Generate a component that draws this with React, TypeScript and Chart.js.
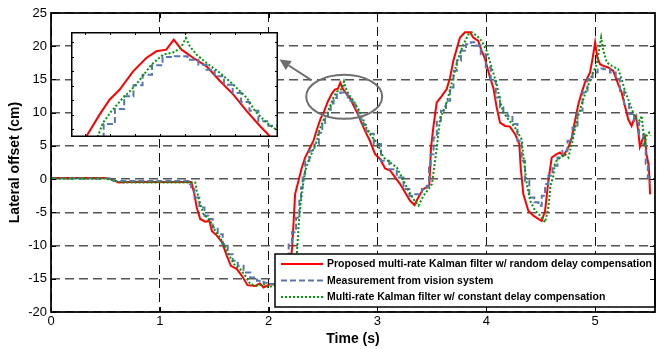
import React, { useEffect, useRef } from 'react';
import { Chart, registerables } from 'chart.js';

Chart.register(...registerables);

const W = 657;
const H = 349;
const FONT = "'Liberation Sans', Arial, Helvetica, sans-serif";

// ---------- data (time s, lateral offset cm) ----------
const redPts: number[][] = [
  [0, 0.15], [0.5, 0.15], [0.55, 0.0], [0.62, -0.5], [0.75, -0.4], [1.0, -0.45], [1.29, -0.45],
  [1.317, -2.26], [1.34, -4.3], [1.371, -6.0], [1.417, -6.4], [1.456, -6.3], [1.478, -7.8], [1.524, -8.5],
  [1.57, -9.5], [1.616, -11.55], [1.653, -13.06], [1.708, -13.55], [1.754, -14.56], [1.806, -15.96],
  [1.876, -16.07], [1.92, -15.7], [1.953, -16.3], [2.014, -15.8], [2.1, -16.0], [2.17, -15.5], [2.2, -12.5],
  [2.216, -10.3], [2.228, -6.8], [2.243, -2.26], [2.274, -0.26], [2.305, 1.75], [2.335, 3.25], [2.381, 4.76],
  [2.412, 5.8], [2.45, 7.8], [2.478, 9.14], [2.506, 10.03], [2.544, 11.68], [2.581, 12.87], [2.609, 13.47],
  [2.637, 13.62], [2.658, 14.51], [2.68, 13.62], [2.713, 12.87], [2.75, 12.13], [2.788, 10.79], [2.825, 9.59],
  [2.863, 8.1], [2.9, 6.76], [2.93, 5.77], [2.978, 3.76], [3.025, 3.0], [3.07, 1.6], [3.116, 1.3], [3.147, 0.6],
  [3.208, -0.75], [3.254, -2.0], [3.3, -3.27], [3.34, -3.9], [3.375, -2.77], [3.421, -1.5], [3.476, -1.0],
  [3.492, 4.76], [3.513, 7.77], [3.544, 11.5], [3.59, 12.5], [3.636, 13.55], [3.667, 15.3], [3.697, 17.8],
  [3.728, 19.6], [3.758, 21.3], [3.804, 22.1], [3.85, 22.1], [3.88, 21.3], [3.926, 20.8], [3.957, 19.3],
  [3.988, 18.1], [4.034, 15.3], [4.064, 13.8], [4.095, 10.8], [4.126, 8.5], [4.172, 8.0], [4.217, 7.9],
  [4.263, 6.8], [4.303, 5.3], [4.316, 1.75], [4.34, -2.26], [4.386, -4.77], [4.432, -5.5], [4.509, -6.3],
  [4.54, -4.77], [4.57, -0.26], [4.601, 3.25], [4.647, 3.76], [4.677, 4.0], [4.708, 3.5], [4.754, 4.76],
  [4.785, 6.27], [4.815, 8.78], [4.846, 11.3], [4.877, 13.05], [4.907, 14.55], [4.953, 16.05], [4.978, 18.3],
  [5.0, 20.6], [5.02, 18.3], [5.045, 17.3], [5.076, 17.05], [5.12, 16.8], [5.166, 16.3], [5.212, 14.3],
  [5.243, 13.05], [5.274, 11.0], [5.304, 9.0], [5.335, 8.0], [5.356, 9.0], [5.374, 9.5], [5.396, 7.27],
  [5.411, 4.86], [5.435, 6.0], [5.457, 6.5], [5.472, 3.76], [5.493, 2.0], [5.505, -2.3],
];

const bluePts: number[][] = [
  [0, 0.1], [0.55, 0.1], [0.6, -0.3], [1.27, -0.3], [1.28, -0.75], [1.295, -1.5], [1.34, -2.77],
  [1.387, -4.28], [1.433, -5.5], [1.463, -6.0], [1.509, -7.3], [1.555, -8.3], [1.601, -9.8], [1.647, -11.3],
  [1.693, -12.3], [1.739, -13.05], [1.8, -14.05], [1.861, -14.8], [1.923, -15.3], [1.984, -15.6], [2.05, -15.8],
  [2.12, -15.8], [2.17, -13.5], [2.198, -9.55], [2.23, -8.0], [2.274, -5.8], [2.29, -3.27], [2.305, -1.26],
  [2.32, 0.75], [2.35, 2.76], [2.397, 4.26], [2.443, 5.2], [2.48, 6.96], [2.506, 8.31], [2.532, 9.45],
  [2.558, 10.43], [2.583, 11.38], [2.611, 12.22], [2.642, 12.96], [2.68, 13.02], [2.713, 12.72], [2.741, 12.27],
  [2.759, 11.83], [2.786, 11.23], [2.811, 10.48], [2.835, 9.74], [2.858, 8.93], [2.882, 8.15], [2.908, 7.2],
  [2.938, 6.81], [2.995, 5.27], [3.07, 2.76], [3.147, 1.5], [3.208, 0.24], [3.27, -1.5], [3.316, -2.5],
  [3.377, -2.26], [3.438, -1.5], [3.469, -1.0], [3.478, 1.75], [3.5, 3.76], [3.53, 6.27], [3.56, 8.78],
  [3.606, 10.3], [3.652, 11.8], [3.683, 13.8], [3.714, 16.3], [3.744, 17.8], [3.79, 19.3], [3.836, 20.3],
  [3.88, 20.6], [3.926, 20.1], [3.972, 18.8], [4.018, 16.8], [4.064, 14.8], [4.11, 12.3], [4.141, 10.8],
  [4.172, 10.0], [4.217, 9.5], [4.263, 8.28], [4.309, 5.77], [4.34, 2.76], [4.372, -0.26], [4.418, -2.77],
  [4.464, -3.5], [4.494, -4.0], [4.525, -2.5], [4.555, -0.75], [4.585, 0.5], [4.631, 2.0], [4.677, 3.25],
  [4.723, 4.26], [4.769, 5.77], [4.815, 7.77], [4.861, 10.3], [4.907, 13.05], [4.953, 15.05], [5.0, 16.05],
  [5.045, 16.65], [5.107, 16.55], [5.166, 16.05], [5.212, 15.05], [5.243, 13.3], [5.289, 11.3], [5.335, 9.79],
  [5.381, 8.5], [5.427, 6.78], [5.457, 5.27], [5.472, 2.26], [5.496, 0.24], [5.51, -0.5],
];

const greenPts: number[][] = [
  [0, 0.1], [0.5, 0.1], [0.58, -0.2], [0.65, -0.5], [1.325, -0.5], [1.34, -1.76], [1.371, -3.76],
  [1.402, -5.27], [1.463, -6.28], [1.509, -7.8], [1.555, -8.8], [1.601, -10.3], [1.647, -11.8], [1.693, -13.05],
  [1.739, -13.55], [1.785, -14.56], [1.831, -15.8], [1.892, -16.07], [1.953, -15.8], [1.999, -16.3], [2.05, -16.0],
  [2.15, -16.0], [2.23, -15.0], [2.26, -11.05], [2.274, -7.3], [2.29, -4.28], [2.311, -1.26], [2.336, 1.25],
  [2.366, 2.76], [2.412, 4.5], [2.445, 5.83], [2.459, 7.05], [2.483, 8.1], [2.511, 9.14], [2.539, 10.03],
  [2.567, 11.08], [2.595, 12.27], [2.628, 13.17], [2.661, 13.41], [2.68, 13.92], [2.692, 14.66], [2.703, 13.92],
  [2.722, 13.17], [2.75, 12.42], [2.788, 11.53], [2.825, 10.48], [2.863, 9.29], [2.886, 8.1], [2.919, 7.05],
  [2.952, 6.31], [2.995, 5.5], [3.055, 3.25], [3.116, 2.5], [3.178, 1.75], [3.224, 0.24], [3.285, -1.76],
  [3.33, -3.0], [3.377, -4.0], [3.422, -2.5], [3.469, -1.5], [3.5, -0.75], [3.521, 1.75], [3.545, 4.76],
  [3.576, 9.28], [3.622, 10.8], [3.652, 12.5], [3.683, 14.55], [3.714, 16.55], [3.744, 18.3], [3.79, 20.3],
  [3.836, 21.8], [3.865, 22.1], [3.911, 21.6], [3.957, 20.8], [4.003, 19.3], [4.049, 16.8], [4.095, 14.3],
  [4.126, 11.8], [4.157, 10.0], [4.203, 9.0], [4.263, 7.77], [4.324, 6.0], [4.345, 2.76], [4.372, -0.75],
  [4.403, -3.27], [4.449, -4.77], [4.494, -5.5], [4.54, -6.5], [4.57, -4.28], [4.59, -1.0], [4.616, 0.5],
  [4.631, 2.5], [4.662, 3.0], [4.723, 3.76], [4.754, 3.25], [4.785, 5.27], [4.831, 8.78], [4.877, 11.3],
  [4.923, 13.55], [4.969, 15.55], [5.015, 17.3], [5.04, 19.8], [5.055, 21.3], [5.076, 19.3], [5.107, 17.55],
  [5.153, 17.05], [5.212, 16.55], [5.243, 15.05], [5.274, 13.3], [5.32, 11.3], [5.365, 9.28], [5.411, 8.78],
  [5.427, 9.53], [5.442, 7.27], [5.457, 5.5], [5.472, 6.5], [5.496, 7.0], [5.51, 6.5],
];

const seriesLabels = [
  'Proposed multi-rate Kalman filter w/ random delay compensation',
  'Measurement from vision system',
  'Multi-rate Kalman filter w/ constant delay compensation',
];

const xTickValues = [0, 1, 2, 3, 4, 5];
const yTickValues = [-20, -15, -10, -5, 0, 5, 10, 15, 20, 25];
const xRange = [0, 5.55];
const yRange = [-20, 25];

const insetXRange = [2.37, 2.95];
const insetYRange = [5.8, 15.2];
const insetXTicks = [2.41, 2.48, 2.55, 2.62, 2.69, 2.76, 2.83, 2.9];
const insetYTicks = [6.5, 7.8, 9.1, 10.4, 11.7, 13.0, 14.3];

// callout annotation in data units
const ellipseCenter = [2.694, 12.4];
const ellipseRadii = [0.349, 3.31];
const arrowFrom = [2.392, 14.9];
const arrowTo = [2.1, 18.0];

// ---------- styles ----------
const seriesStyles = [
  { color: '#ff0000', dash: [] as number[], stepped: false as any, order: 2 },
  { color: '#5a76b0', dash: [6, 3], stepped: 'middle' as any, order: 1 },
  { color: '#00980a', dash: [2, 2], stepped: false as any, order: 0 },
];

function makeDatasets() {
  const series = [redPts, bluePts, greenPts];
  return series.map((pts, i) => ({
    label: seriesLabels[i],
    data: pts.map(([x, y]) => ({ x, y })),
    borderColor: seriesStyles[i].color,
    backgroundColor: seriesStyles[i].color,
    borderWidth: 2,
    borderDash: seriesStyles[i].dash,
    borderCapStyle: 'butt' as const,
    stepped: seriesStyles[i].stepped,
    pointRadius: 0,
    fill: false,
    tension: 0,
    order: seriesStyles[i].order,
  }));
}

const mainDecor = {
  id: 'mainDecor',
  afterDatasetsDraw(chart: any) {
    const { ctx, chartArea: ca, scales } = chart;
    const xs = scales.x;
    const ys = scales.y;
    ctx.save();

    // ellipse callout
    const cx = xs.getPixelForValue(ellipseCenter[0]);
    const cy = ys.getPixelForValue(ellipseCenter[1]);
    const rx = Math.abs(xs.getPixelForValue(ellipseCenter[0] + ellipseRadii[0]) - cx);
    const ry = Math.abs(ys.getPixelForValue(ellipseCenter[1] + ellipseRadii[1]) - cy);
    ctx.strokeStyle = '#6e6e6e';
    ctx.lineWidth = 2;
    ctx.setLineDash([]);
    ctx.beginPath();
    ctx.ellipse(cx, cy, rx, ry, 0, 0, Math.PI * 2);
    ctx.stroke();

    // arrow
    const ax0 = xs.getPixelForValue(arrowFrom[0]);
    const ay0 = ys.getPixelForValue(arrowFrom[1]);
    const ax1 = xs.getPixelForValue(arrowTo[0]);
    const ay1 = ys.getPixelForValue(arrowTo[1]);
    const ang = Math.atan2(ay1 - ay0, ax1 - ax0);
    const hl = 11;
    const hw = 5.5;
    const bx = ax1 - hl * Math.cos(ang);
    const by = ay1 - hl * Math.sin(ang);
    ctx.beginPath();
    ctx.moveTo(ax0, ay0);
    ctx.lineTo(bx, by);
    ctx.stroke();
    ctx.fillStyle = '#6e6e6e';
    ctx.beginPath();
    ctx.moveTo(ax1, ay1);
    ctx.lineTo(bx + hw * Math.sin(ang), by - hw * Math.cos(ang));
    ctx.lineTo(bx - hw * Math.sin(ang), by + hw * Math.cos(ang));
    ctx.closePath();
    ctx.fill();

    // legend box
    const lx = ca.left + 224;
    const ly = ca.top + 241;
    const lw = ca.right - lx;
    const lh = 53;
    ctx.fillStyle = '#ffffff';
    ctx.fillRect(lx, ly, lw, lh);
    ctx.strokeStyle = '#000';
    ctx.lineWidth = 1.5;
    ctx.strokeRect(lx, ly, lw, lh);
    const rows = [10, 26.5, 43];
    chart.data.datasets.forEach((ds: any, i: number) => {
      const ry2 = ly + rows[i];
      ctx.strokeStyle = ds.borderColor;
      ctx.lineWidth = 2;
      ctx.setLineDash(ds.borderDash || []);
      ctx.beginPath();
      ctx.moveTo(lx + 6, ry2);
      ctx.lineTo(lx + 48, ry2);
      ctx.stroke();
      ctx.setLineDash([]);
      ctx.fillStyle = '#000';
      ctx.font = `bold 10.5px ${FONT}`;
      ctx.textBaseline = 'middle';
      ctx.textAlign = 'left';
      ctx.fillText(ds.label, lx + 52, ry2 + 0.5);
    });

    // frame
    ctx.setLineDash([]);
    ctx.strokeStyle = '#000';
    ctx.lineWidth = 1.75;
    ctx.strokeRect(ca.left, ca.top, ca.right - ca.left, ca.bottom - ca.top);

    // inward ticks
    ctx.lineWidth = 1;
    const tl = 5;
    ctx.beginPath();
    xTickValues.forEach((v) => {
      const px = Math.round(xs.getPixelForValue(v)) + 0.5;
      ctx.moveTo(px, ca.bottom);
      ctx.lineTo(px, ca.bottom - tl);
      ctx.moveTo(px, ca.top);
      ctx.lineTo(px, ca.top + tl);
    });
    yTickValues.forEach((v) => {
      const py = Math.round(ys.getPixelForValue(v)) + 0.5;
      ctx.moveTo(ca.left, py);
      ctx.lineTo(ca.left + tl, py);
      ctx.moveTo(ca.right, py);
      ctx.lineTo(ca.right - tl, py);
    });
    ctx.stroke();
    ctx.restore();
  },
};

const insetDecor = {
  id: 'insetDecor',
  afterDatasetsDraw(chart: any) {
    const { ctx, scales, width, height } = chart;
    const xs = scales.x;
    const ys = scales.y;
    ctx.save();
    ctx.strokeStyle = '#000';
    ctx.lineWidth = 1.5;
    ctx.setLineDash([]);
    ctx.strokeRect(0.75, 0.75, width - 1.5, height - 1.5);
    ctx.lineWidth = 1;
    const tl = 3;
    ctx.beginPath();
    insetXTicks.forEach((v) => {
      const px = Math.round(xs.getPixelForValue(v)) + 0.5;
      ctx.moveTo(px, 0);
      ctx.lineTo(px, tl);
      ctx.moveTo(px, height);
      ctx.lineTo(px, height - tl);
    });
    insetYTicks.forEach((v) => {
      const py = Math.round(ys.getPixelForValue(v)) + 0.5;
      ctx.moveTo(0, py);
      ctx.lineTo(tl, py);
      ctx.moveTo(width, py);
      ctx.lineTo(width - tl, py);
    });
    ctx.stroke();
    ctx.restore();
  },
};

export default function App() {
  const mainRef = useRef<HTMLCanvasElement | null>(null);
  const insetRef = useRef<HTMLCanvasElement | null>(null);

  useEffect(() => {
    if (!mainRef.current || !insetRef.current) return;
    const tickFont = { family: FONT, size: 13 };
    const titleFont = { family: FONT, size: 14, weight: 'bold' as const };

    const main = new Chart(mainRef.current, {
      type: 'line',
      data: { datasets: makeDatasets() as any },
      options: {
        responsive: false,
        animation: false,
        events: [],
        layout: { padding: { top: 13, right: 2, left: 0, bottom: 0 } },
        plugins: { legend: { display: false }, tooltip: { enabled: false } },
        scales: {
          x: {
            type: 'linear',
            min: xRange[0],
            max: xRange[1],
            afterBuildTicks: (s: any) => {
              s.ticks = xTickValues.map((v) => ({ value: v }));
            },
            afterFit: (s: any) => {
              s.height = 37;
            },
            grid: { color: '#111', lineWidth: 1, drawTicks: false },
            border: { display: false, dash: [9, 5] },
            ticks: {
              font: tickFont,
              color: '#000',
              padding: 2,
              maxRotation: 0,
              autoSkip: false,
              callback: (v: any) => String(v),
            },
            title: {
              display: true,
              text: 'Time (s)',
              font: titleFont,
              color: '#000',
              padding: { top: 0, bottom: 1 },
            },
          },
          y: {
            type: 'linear',
            min: yRange[0],
            max: yRange[1],
            afterBuildTicks: (s: any) => {
              s.ticks = yTickValues.map((v) => ({ value: v }));
            },
            afterFit: (s: any) => {
              s.width = 51;
            },
            grid: { color: '#555', lineWidth: 1.5, drawTicks: false },
            border: { display: false, dash: [9, 5] },
            ticks: {
              font: tickFont,
              color: '#000',
              padding: 4,
              autoSkip: false,
              callback: (v: any) => String(v),
            },
            title: {
              display: true,
              text: 'Lateral offset (cm)',
              font: titleFont,
              color: '#000',
              padding: { top: 7, bottom: 0 },
            },
          },
        },
      },
      plugins: [mainDecor],
    });

    const inset = new Chart(insetRef.current, {
      type: 'line',
      data: { datasets: makeDatasets() as any },
      options: {
        responsive: false,
        animation: false,
        events: [],
        layout: { padding: 0 },
        plugins: { legend: { display: false }, tooltip: { enabled: false } },
        scales: {
          x: { type: 'linear', display: false, min: insetXRange[0], max: insetXRange[1] },
          y: { type: 'linear', display: false, min: insetYRange[0], max: insetYRange[1] },
        },
      },
      plugins: [insetDecor],
    });

    return () => {
      main.destroy();
      inset.destroy();
    };
  }, []);

  return (
    <div style={{ position: 'fixed', left: 0, top: 0, width: W, height: H, background: '#fff' }}>
      <canvas ref={mainRef} width={W} height={H} style={{ position: 'absolute', left: 0, top: 0, width: W, height: H }} />
      <canvas
        ref={insetRef}
        width={207}
        height={105}
        style={{ position: 'absolute', left: 71, top: 32, width: 207, height: 105, background: '#fff' }}
      />
    </div>
  );
}
